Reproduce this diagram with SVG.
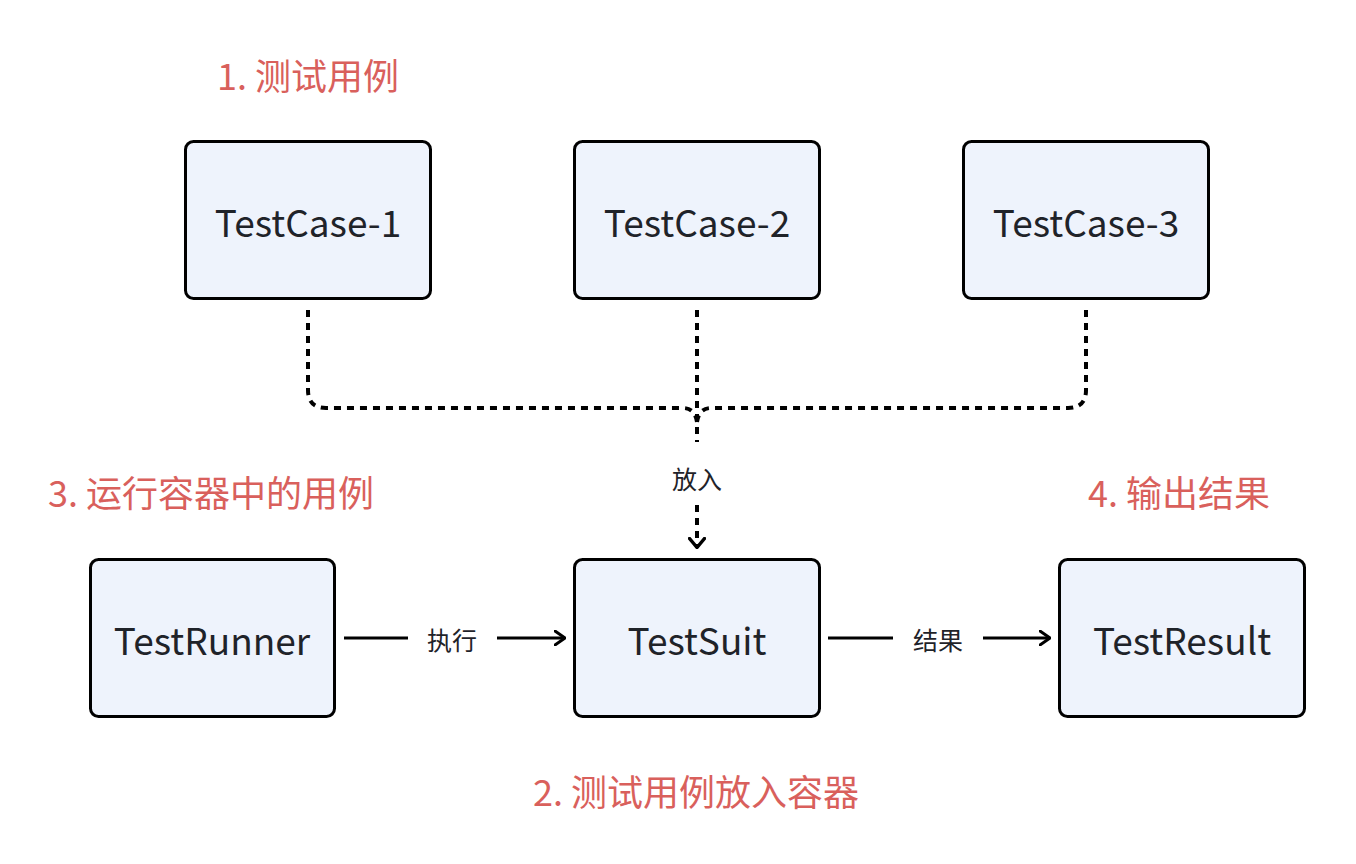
<svg xmlns="http://www.w3.org/2000/svg" width="1356" height="864" viewBox="0 0 1356 864">
<defs>
<style>
.box{fill:#eef3fc;stroke:#000;stroke-width:3}
.nt{font-family:"Noto Sans CJK SC","Noto Sans",sans-serif;font-size:37px;fill:#1f2329;text-anchor:middle;dominant-baseline:central}
.red{font-family:"Noto Sans CJK SC","Noto Sans",sans-serif;font-size:36px;fill:#d9605c}
.el{font-family:"Noto Sans CJK SC","Noto Sans",sans-serif;font-size:25px;fill:#1f2329;text-anchor:middle;dominant-baseline:central}
.dash{fill:none;stroke:#000;stroke-width:4;stroke-dasharray:7 6}
.solid{fill:none;stroke:#000;stroke-width:3}
</style>
<marker id="arr" viewBox="0 0 12 16" refX="11" refY="8" markerWidth="12" markerHeight="16" markerUnits="userSpaceOnUse" orient="auto">
<path d="M1 1 L11 8 L1 15" fill="none" stroke="#000" stroke-width="3" stroke-linecap="round" stroke-linejoin="round"/>
</marker>
<marker id="arrd" viewBox="0 0 12 18" refX="11" refY="9" markerWidth="12" markerHeight="18" markerUnits="userSpaceOnUse" orient="auto">
<path d="M1.5 1.5 L10.5 9 L1.5 16.5" fill="none" stroke="#000" stroke-width="3.5" stroke-linecap="round" stroke-linejoin="round"/>
</marker>
</defs>
<rect width="1356" height="864" fill="#fff"/>
<text class="red" x="217" y="90">1. 测试用例</text>
<text class="red" x="48" y="507">3. 运行容器中的用例</text>
<text class="red" x="1088" y="507">4. 输出结果</text>
<text class="red" x="533" y="806">2. 测试用例放入容器</text>
<g id="connectors">
<path class="dash" d="M308 310 V390 Q308 408 326 408 H683 Q695 408 697 422"/>
<path class="dash" d="M1086 310 V390 Q1086 408 1068 408 H711 Q699 408 697 422"/>
<path class="dash" d="M697 310 V442"/>
<path class="dash" d="M697 505 V548" marker-end="url(#arrd)"/>
<text class="el" x="697" y="478">放入</text>
<path class="solid" d="M344 638 H408"/>
<path class="solid" d="M497 638 H565" marker-end="url(#arr)"/>
<text class="el" x="452" y="639">执行</text>
<path class="solid" d="M828 638 H893"/>
<path class="solid" d="M983 638 H1050" marker-end="url(#arr)"/>
<text class="el" x="938" y="639">结果</text>
</g>
<g id="tc1"><rect class="box" x="185.5" y="141.5" width="245" height="157" rx="8"/><text class="nt" x="308" y="221">TestCase-1</text></g>
<g id="tc2"><rect class="box" x="574.5" y="141.5" width="245" height="157" rx="8"/><text class="nt" x="697" y="221">TestCase-2</text></g>
<g id="tc3"><rect class="box" x="963.5" y="141.5" width="245" height="157" rx="8"/><text class="nt" x="1086" y="221">TestCase-3</text></g>
<g id="runner"><rect class="box" x="90.5" y="559.5" width="244" height="157" rx="8"/><text class="nt" x="212" y="639">TestRunner</text></g>
<g id="suit"><rect class="box" x="574.5" y="559.5" width="245" height="157" rx="8"/><text class="nt" x="697" y="639">TestSuit</text></g>
<g id="result"><rect class="box" x="1059.5" y="559.5" width="245" height="157" rx="8"/><text class="nt" x="1182" y="639">TestResult</text></g>
</svg>
